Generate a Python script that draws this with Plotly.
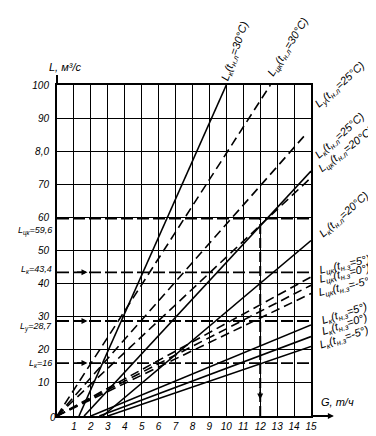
import plotly.graph_objects as go

# ---- data ----
kinds = ["к", "цк", "у", "к", "цк", "к", "цк", "цк", "цк", "к", "к", "к"]
seasons = ["л", "л", "л", "л", "л", "л", "з", "з", "з", "з", "з", "з"]
temps = ["30", "30", "25", "25", "20", "20", "5", "0", "-5", "5", "0", "-5"]
g_start = [1.3, 0.0, 0.0, 1.6, 0.0, 2.7, 0.0, 0.0, 0.0, 2.0, 2.5, 3.0]
g_end = [10.0, 12.6, 14.6, 15.0, 15.0, 15.0, 15.0, 15.0, 15.0, 15.0, 15.0, 15.0]
l_end = [100.0, 100.0, 84.6, 74.0, 72.0, 53.0, 42.0, 39.5, 37.0, 27.5, 24.0, 21.0]

ref_kinds = ["цк", "к", "у", "к"]
ref_values = [59.6, 43.4, 28.7, 16.0]
ref_texts = ["59,6", "43,4", "28,7", "16"]
g_ref = 12

x_ticks = list(range(1, 16))
y_ticks = list(range(10, 101, 10))
y_tick_text = ["10", "20", "30", "40", "50", "60", "70", "8,0", "90", "100"]

# ---- label placement (pixels relative to line end) ----
label_style = [
    (9, 34, -71), (18, 38, -58), (36, 51, -42), (29, 35, -42), (35, 28, -38),
    (33, 26, -42), (34, 12, -13), (34, 11, -13), (34, 7, -13),
    (33, 11, -18), (33, 12, -18), (33, 8, -18),
]
ref_label_shift = [-12, 3, -6, 0]

FONT = "Liberation Sans"
fig = go.Figure()

for k, s, t, g0, g1, l1 in zip(kinds, seasons, temps, g_start, g_end, l_end):
    fig.add_trace(go.Scatter(
        x=[g0, g1], y=[0, l1], mode="lines",
        line=dict(color="black", width=1.6,
                  dash="solid" if k == "к" else "9px,5px"),
        showlegend=False, hoverinfo="skip"))

for i, (k, s, t, g1, l1) in enumerate(zip(kinds, seasons, temps, g_end, l_end)):
    dx, dy, ang = label_style[i]
    unit = "°C" if s == "л" else "°"
    txt = f"L<sub>{k}</sub>(t<sub>н.{s}</sub>={t}{unit})"
    fig.add_annotation(x=g1, y=l1, xref="x", yref="y", text=txt, showarrow=False,
                       xshift=dx, yshift=dy, textangle=ang,
                       font=dict(family=FONT, size=11, color="black", style="italic"))

# reference horizontal lines
for k, v, tx, sh in zip(ref_kinds, ref_values, ref_texts, ref_label_shift):
    fig.add_trace(go.Scatter(x=[0, 15], y=[v, v], mode="lines",
                             line=dict(color="black", width=1.8, dash="12px,4px"),
                             showlegend=False, hoverinfo="skip"))
    fig.add_annotation(x=0, y=v, xref="paper", yref="y", text=f"L<sub>{k}</sub>={tx}",
                       showarrow=False, xanchor="right", xshift=-3, yshift=sh,
                       font=dict(family=FONT, size=9, color="black", style="italic"))
    if k != "цк":
        fig.add_annotation(x=1.8, y=v, xref="x", yref="y", ax=-12, ay=0, text="",
                           showarrow=True, arrowhead=2, arrowsize=0.8, arrowwidth=1.5,
                           arrowcolor="black")

# vertical reference at G = 12
fig.add_trace(go.Scatter(x=[g_ref, g_ref], y=[0, ref_values[0]], mode="lines",
                         line=dict(color="black", width=2, dash="10px,4px"),
                         showlegend=False, hoverinfo="skip"))
fig.add_annotation(x=g_ref, y=5, xref="x", yref="y", ax=0, ay=-14, text="",
                   showarrow=True, arrowhead=2, arrowsize=0.8, arrowwidth=1.5,
                   arrowcolor="black")

# axis extensions and titles
fig.add_shape(type="line", xref="paper", yref="paper", x0=0, x1=0, y0=1, y1=1.03,
              line=dict(color="black", width=2))
fig.add_shape(type="line", xref="paper", yref="paper", x0=1, x1=1.07, y0=0, y1=0,
              line=dict(color="black", width=2))
fig.add_annotation(x=1.09, y=0, xref="paper", yref="paper", ax=-8, ay=0, text="",
                   showarrow=True, arrowhead=2, arrowsize=0.8, arrowwidth=1.5,
                   arrowcolor="black")
fig.add_annotation(x=1.03, y=0, xref="paper", yref="paper", text="G, т/ч",
                   showarrow=False, xanchor="left", yanchor="bottom", yshift=6,
                   font=dict(family=FONT, size=11, color="black", style="italic"))
fig.add_annotation(x=0, y=1.03, xref="paper", yref="paper", text="L, м³/с",
                   showarrow=False, xanchor="center", yanchor="bottom", xshift=8,
                   font=dict(family=FONT, size=11, color="black", style="italic"))
fig.add_annotation(x=0, y=0, xref="paper", yref="paper", text="0",
                   showarrow=False, xshift=-9, yshift=-9,
                   font=dict(family=FONT, size=10, color="black", style="italic"))

fig.update_xaxes(range=[0, 15], tickvals=x_ticks, ticks="", showgrid=True,
                 gridcolor="black", gridwidth=1.3, zeroline=False,
                 showline=True, linecolor="black", linewidth=2, mirror=True,
                 tickfont=dict(family=FONT, size=10, color="black", style="italic"))
fig.update_yaxes(range=[0, 100], tickvals=y_ticks, ticktext=y_tick_text, ticks="",
                 showgrid=True, gridcolor="black", gridwidth=1.3, zeroline=False,
                 showline=True, linecolor="black", linewidth=2, mirror=True,
                 ticklabelstandoff=4,
                 tickfont=dict(family=FONT, size=10, color="black", style="italic"))

fig.update_layout(width=376, height=436, margin=dict(l=49, r=73, t=77, b=20),
                  paper_bgcolor="white", plot_bgcolor="white", showlegend=False)

fig.write_html("out.html")
